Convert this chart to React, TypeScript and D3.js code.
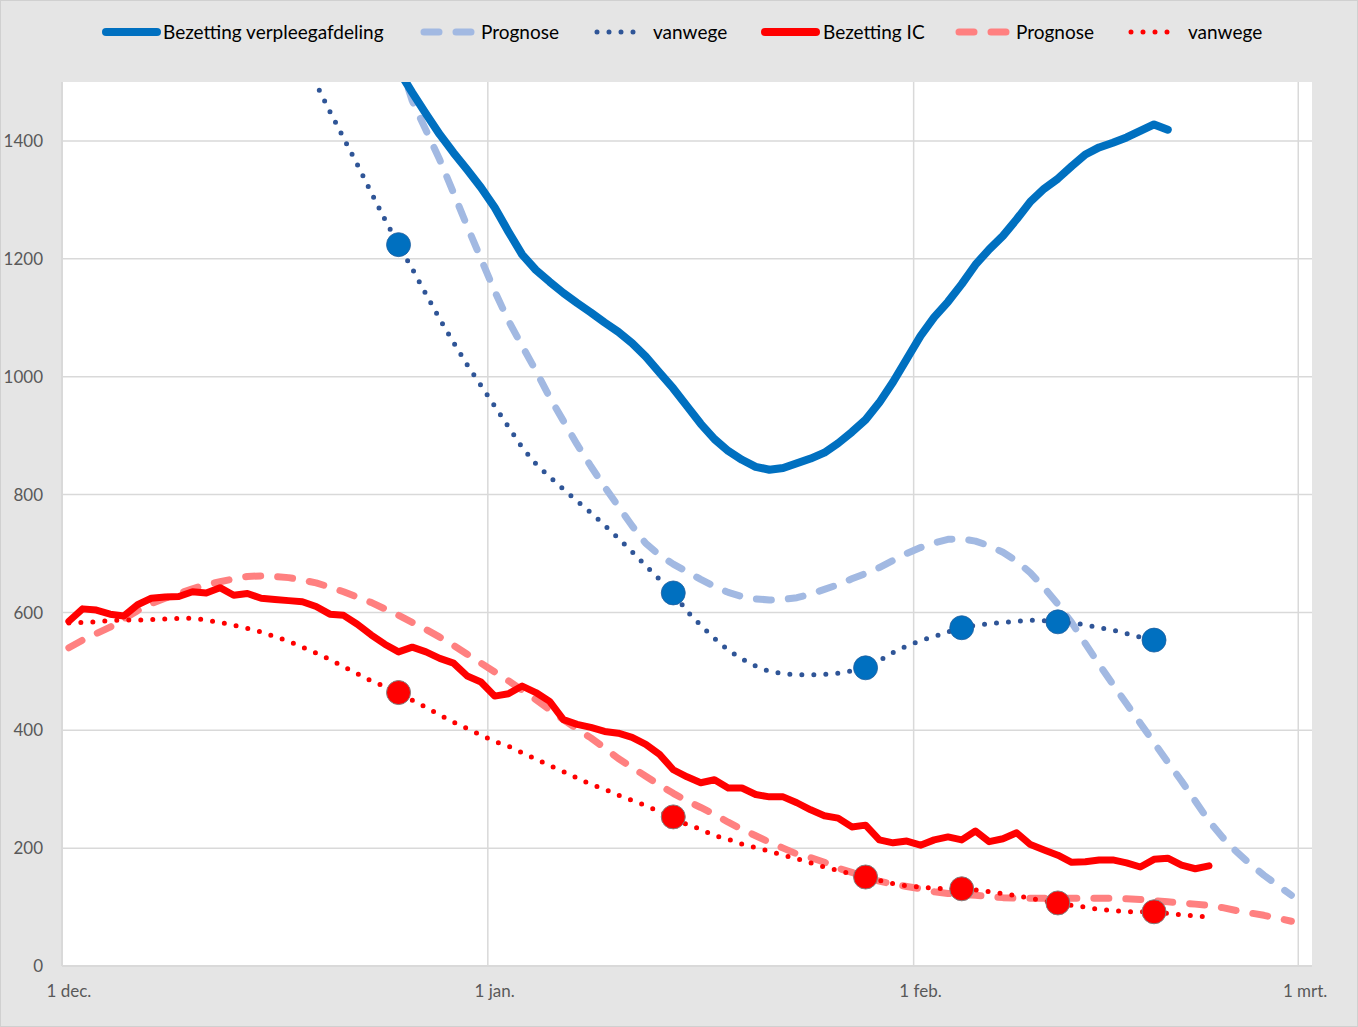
import React from "react";
import * as d3 from "d3";

// Occupancy of Dutch hospitals (nursing wards and IC), Dec 2020 – Feb 2021
const axisStart = "2020-12-01";
const axisEnd = "2021-03-02";
const xTickDates = ["2020-12-01", "2021-01-01", "2021-02-01", "2021-03-01"];
const xTickLabels = ["1 dec.", "1 jan.", "1 feb.", "1 mrt."];
const yTicks = [0, 200, 400, 600, 800, 1000, 1200, 1400];
const yMax = 1500;

const legendLabels = [
  "Bezetting verpleegafdeling",
  "Prognose",
  "vanwege",
  "Bezetting IC",
  "Prognose",
  "vanwege",
];

// Daily values; each series starts on its own date
const verpleegStart = "2020-12-24";
const verpleegValues = [
  1560, 1520, 1482, 1446, 1411, 1380, 1351, 1321, 1287, 1246, 1207, 1181, 1161, 1142, 1125, 1109,
  1092, 1076, 1057, 1034, 1007, 980, 950, 920, 894, 874, 859, 847, 842, 845, 853, 861, 871, 887,
  906, 927, 956, 991, 1030, 1069, 1101, 1127, 1157, 1190, 1216, 1239, 1267, 1297, 1319, 1336,
  1357, 1377, 1389, 1397, 1406, 1417, 1428, 1419,
];

const verpleegPrognoseStart = "2020-12-25";
const verpleegPrognoseValues = [
  1540, 1468, 1418, 1368, 1312, 1255, 1200, 1145, 1095, 1052, 1010, 965, 925, 885, 848, 813, 780,
  747, 717, 697, 682, 669, 656, 644, 634, 627, 623, 621, 622, 625, 631, 639, 647, 657, 666, 676,
  688, 700, 710, 718, 724, 725, 721, 713, 702, 687, 667, 642, 614, 583, 547, 512, 478, 445, 412,
  379, 346, 314, 280, 246, 218, 194, 173, 154, 137, 120,
];

const verpleegVanwegeStart = "2020-12-18";
const verpleegVanwegeValues = [
  1540, 1497, 1450, 1405, 1360, 1313, 1267, 1224, 1183, 1140, 1098, 1058, 1020, 985, 950, 915, 880,
  852, 830, 809, 789, 769, 748, 726, 703, 679, 656, 633, 602, 578, 556, 536, 521, 509, 500, 496,
  494, 494, 495, 497, 501, 506, 518, 532, 543, 552, 559, 567, 574, 578, 581, 583, 585, 587, 586,
  584, 582, 579, 574, 570, 564, 558, 553, 541,
];

const icStart = "2020-12-01";
const icValues = [
  585, 606, 604, 597, 594, 613, 624, 626, 627, 635, 633, 642, 629, 632, 624, 622, 620, 618, 610,
  597, 595, 580, 562, 546, 533, 541, 533, 522, 514, 492, 482, 458, 462, 475, 464, 449, 418, 410,
  405, 398, 395, 388, 376, 359, 333, 321, 311, 316, 302, 302, 291, 287, 287, 277, 265, 255, 251,
  236, 239, 214, 209, 212, 205, 214, 219, 214, 229, 211, 216, 226, 206, 197, 188, 176, 177, 180,
  180, 175, 168, 181, 183, 171, 165, 170,
];

const icPrognoseStart = "2020-12-01";
const icPrognoseValues = [
  540, 553, 564, 575, 589, 603, 615, 624, 632, 640, 647, 652, 657, 661, 662, 661, 659, 655, 650,
  643, 635, 626, 617, 606, 595, 583, 571, 558, 544, 529, 514, 499, 484, 468, 452, 435, 418, 402,
  387, 370, 352, 337, 322, 307, 293, 280, 269, 257, 244, 232, 221, 210, 200, 190, 184, 176, 166,
  159, 150, 144, 139, 135, 131, 126, 123, 121, 120, 118, 116, 115, 115, 115, 115, 115, 115, 115,
  115, 114, 113, 111, 109, 107, 105, 103, 99, 94, 90, 86, 81, 76,
];

const icVanwegeStart = "2020-12-01";
const icVanwegeValues = [
  582, 583, 584, 586, 587, 587, 588, 589, 590, 590, 587, 583, 578, 573, 567, 559, 551, 541, 531,
  520, 508, 496, 484, 474, 464, 451, 439, 426, 414, 403, 392, 381, 373, 362, 351, 340, 330, 319,
  308, 300, 290, 281, 272, 262, 253, 240, 232, 221, 215, 207, 201, 195, 188, 182, 175, 168, 162,
  156, 151, 145, 140, 136, 134, 132, 131, 131, 129, 126, 123, 119, 115, 110, 107, 103, 100, 96,
  94, 92, 92, 92, 89, 87, 85, 83,
];

// Days on which the "vanwege" curves are highlighted
const markerDates = ["2020-12-25", "2021-01-14", "2021-01-28", "2021-02-04", "2021-02-11", "2021-02-18"];

type Pt = { date: Date; value: number };

const DAY = 864e5;
const parseDay = (s: string) => {
  const [y, m, d] = s.split("-").map(Number);
  return new Date(Date.UTC(y, m - 1, d));
};
// Each daily value sits in the middle of its day
const atNoon = (s: string, offset = 0) => new Date(parseDay(s).getTime() + (offset + 0.5) * DAY);
const toPoints = (start: string, values: number[]): Pt[] =>
  values.map((v, i) => ({ date: atNoon(start, i), value: v }));

const valueOn = (start: string, values: number[], date: string) =>
  values[Math.round((parseDay(date).getTime() - parseDay(start).getTime()) / DAY)];

const W = 1358;
const H = 1027;
const plot = { left: 62, right: 1312, top: 82, bottom: 966 };

const BLUE = "#0070C0";
const BLUE_LIGHT = "#A2B9E2";
const BLUE_DARK = "#2F5597";
const RED = "#FF0000";
const RED_LIGHT = "#FF8080";
const GRID = "#D9D9D9";
const FONT = "Lato, 'Open Sans', sans-serif";

export default function App() {
  const x = d3
    .scaleUtc()
    .domain([parseDay(axisStart), parseDay(axisEnd)])
    .range([plot.left, plot.right]);
  const y = d3.scaleLinear().domain([0, yMax]).range([plot.bottom, plot.top]);

  const line = d3
    .line<Pt>()
    .x((p) => x(p.date))
    .y((p) => y(p.value));

  const dashed = "15 17";
  const dotted = "0 12";

  const series = {
    verpleeg: toPoints(verpleegStart, verpleegValues),
    verpleegPrognose: toPoints(verpleegPrognoseStart, verpleegPrognoseValues),
    verpleegVanwege: toPoints(verpleegVanwegeStart, verpleegVanwegeValues),
    ic: toPoints(icStart, icValues),
    icPrognose: toPoints(icPrognoseStart, icPrognoseValues),
    icVanwege: toPoints(icVanwegeStart, icVanwegeValues),
  };

  const blueMarkers = markerDates.map((d) => ({
    date: atNoon(d),
    value: valueOn(verpleegVanwegeStart, verpleegVanwegeValues, d),
  }));
  const redMarkers = markerDates.map((d) => ({
    date: atNoon(d),
    value: valueOn(icVanwegeStart, icVanwegeValues, d),
  }));

  // legend: sample start/end and label position for each entry
  const legendY = 32;
  const legendLayout = [
    { x1: 106, x2: 157, tx: 163 },
    { x1: 424, x2: 471, tx: 481 },
    { x1: 597, x2: 645, tx: 653 },
    { x1: 765, x2: 816, tx: 823 },
    { x1: 959, x2: 1006, tx: 1016 },
    { x1: 1131, x2: 1179, tx: 1188 },
  ];
  const legendStyles = [
    { stroke: BLUE, width: 8, dash: undefined },
    { stroke: BLUE_LIGHT, width: 7, dash: dashed },
    { stroke: BLUE_DARK, width: 5, dash: dotted },
    { stroke: RED, width: 8, dash: undefined },
    { stroke: RED_LIGHT, width: 7, dash: dashed },
    { stroke: RED, width: 5, dash: dotted },
  ];

  return (
    <svg
      width={W}
      height={H}
      style={{ position: "absolute", left: 0, top: 0, fontFamily: FONT }}
    >
      <defs>
        <clipPath id="plot-area">
          <rect
            x={plot.left}
            y={plot.top}
            width={plot.right - plot.left}
            height={plot.bottom - plot.top}
          />
        </clipPath>
      </defs>

      <rect x={0.5} y={0.5} width={W - 1} height={H - 1} fill="#E5E5E5" stroke="#D0D0D0" />
      <rect
        x={plot.left}
        y={plot.top}
        width={plot.right - plot.left}
        height={plot.bottom - plot.top}
        fill="#FFFFFF"
      />

      {/* horizontal gridlines */}
      {yTicks.map((t) => (
        <line
          key={`gy${t}`}
          x1={plot.left}
          x2={plot.right}
          y1={y(t)}
          y2={y(t)}
          stroke={GRID}
          strokeWidth={t === 0 ? 2 : 1.5}
        />
      ))}
      {/* vertical gridlines at the first of each month */}
      {xTickDates.map((d) => (
        <line
          key={`gx${d}`}
          x1={x(parseDay(d))}
          x2={x(parseDay(d))}
          y1={plot.top}
          y2={plot.bottom}
          stroke={GRID}
          strokeWidth={d === axisStart ? 2 : 1.5}
        />
      ))}

      <g clipPath="url(#plot-area)" fill="none" strokeLinecap="round" strokeLinejoin="round">
        <path d={line(series.verpleegPrognose) ?? ""} stroke={BLUE_LIGHT} strokeWidth={7} strokeDasharray={dashed} />
        <path d={line(series.icPrognose) ?? ""} stroke={RED_LIGHT} strokeWidth={7} strokeDasharray={dashed} />
        <path d={line(series.verpleegVanwege) ?? ""} stroke={BLUE_DARK} strokeWidth={5} strokeDasharray={dotted} />
        <path d={line(series.icVanwege) ?? ""} stroke={RED} strokeWidth={5} strokeDasharray={dotted} />
        <path d={line(series.ic) ?? ""} stroke={RED} strokeWidth={7} />
        <path d={line(series.verpleeg) ?? ""} stroke={BLUE} strokeWidth={8} />
      </g>

      {blueMarkers.map((m, i) => (
        <circle key={`bm${i}`} cx={x(m.date)} cy={y(m.value)} r={12} fill={BLUE} stroke="#1F5FA0" strokeWidth={0.8} />
      ))}
      {redMarkers.map((m, i) => (
        <circle key={`rm${i}`} cx={x(m.date)} cy={y(m.value)} r={12} fill={RED} stroke="#7F7F7F" strokeWidth={1} />
      ))}

      {/* y axis labels */}
      {yTicks.map((t) => (
        <text
          key={`ty${t}`}
          x={43}
          y={y(t)}
          dy="0.36em"
          textAnchor="end"
          fontSize={17}
          fill="#595959"
        >
          {t}
        </text>
      ))}
      {/* x axis labels */}
      {xTickDates.map((d, i) => (
        <text
          key={`tx${d}`}
          x={x(atNoon(d))}
          y={997}
          textAnchor="middle"
          fontSize={17}
          fill="#595959"
        >
          {xTickLabels[i]}
        </text>
      ))}

      {/* legend */}
      {legendLabels.map((label, i) => {
        const L = legendLayout[i];
        const S = legendStyles[i];
        return (
          <g key={`lg${i}`}>
            <line
              x1={L.x1}
              x2={L.x2}
              y1={legendY}
              y2={legendY}
              stroke={S.stroke}
              strokeWidth={S.width}
              strokeLinecap="round"
              strokeDasharray={S.dash}
            />
            <text x={L.tx} y={legendY} dy="0.36em" fontSize={19} fill="#000">
              {label}
            </text>
          </g>
        );
      })}
    </svg>
  );
}
